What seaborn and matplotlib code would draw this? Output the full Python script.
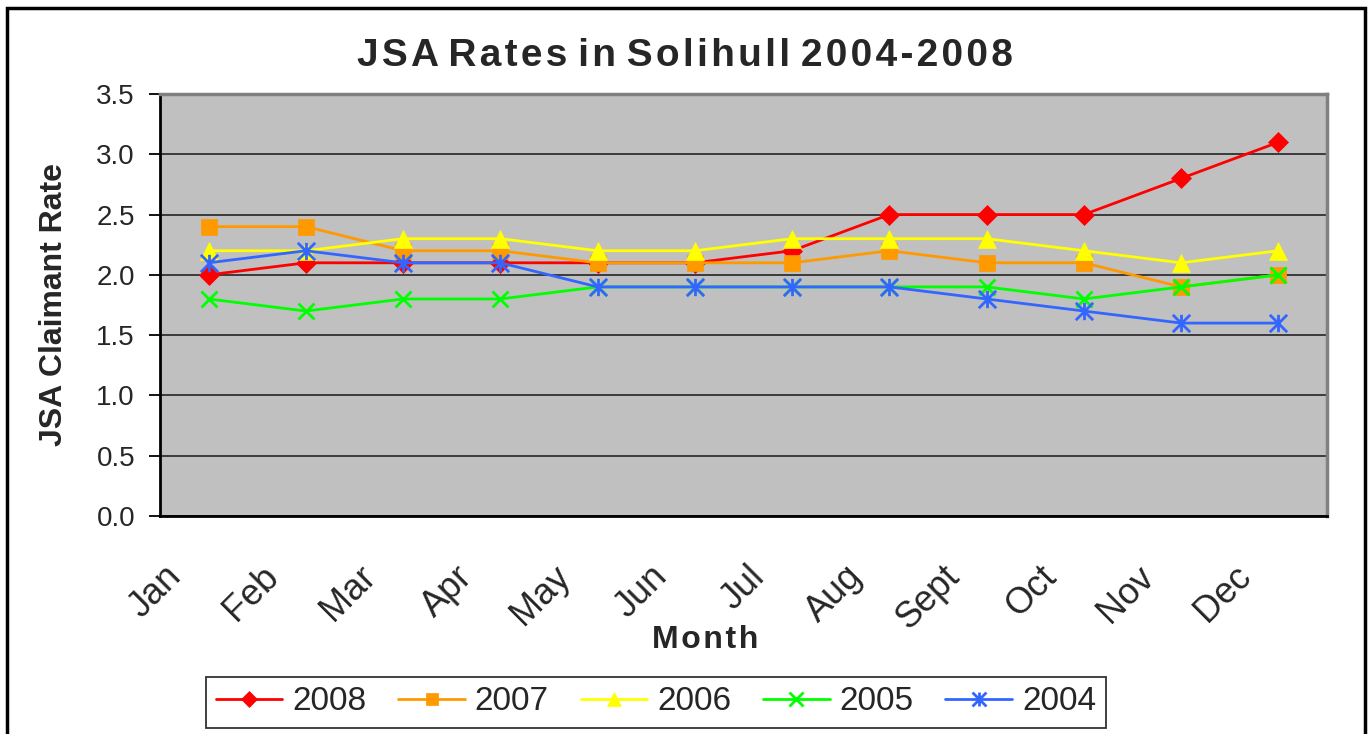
import numpy as np
import pandas as pd
import matplotlib
matplotlib.use("Agg")
import matplotlib.pyplot as plt
import seaborn as sns
from matplotlib.path import Path
from matplotlib.patches import Rectangle
from matplotlib.transforms import ScaledTranslation

months = ["Jan", "Feb", "Mar", "Apr", "May", "Jun", "Jul", "Aug", "Sept", "Oct", "Nov", "Dec"]
y2008 = [2.0, 2.1, 2.1, 2.1, 2.1, 2.1, 2.2, 2.5, 2.5, 2.5, 2.8, 3.1]
y2007 = [2.4, 2.4, 2.2, 2.2, 2.1, 2.1, 2.1, 2.2, 2.1, 2.1, 1.9, 2.0]
y2006 = [2.2, 2.2, 2.3, 2.3, 2.2, 2.2, 2.3, 2.3, 2.3, 2.2, 2.1, 2.2]
y2005 = [1.8, 1.7, 1.8, 1.8, 1.9, 1.9, 1.9, 1.9, 1.9, 1.8, 1.9, 2.0]
y2004 = [2.1, 2.2, 2.1, 2.1, 1.9, 1.9, 1.9, 1.9, 1.8, 1.7, 1.6, 1.6]
years = ["2008", "2007", "2006", "2005", "2004"]
series = [y2008, y2007, y2006, y2005, y2004]
yticks = [0.0, 0.5, 1.0, 1.5, 2.0, 2.5, 3.0, 3.5]

colors = ["#FF0000", "#FF9900", "#FFFF00", "#00FF00", "#3366FF"]
asterisk = Path([(0, -1), (0, 1), (-1, -1), (1, 1), (-1, 1), (1, -1)],
                [Path.MOVETO, Path.LINETO, Path.MOVETO, Path.LINETO, Path.MOVETO, Path.LINETO])
markers = ["D", "s", "^", "x", asterisk]
msizes = [10, 11.5, 12.5, 12, 12.5]

HS = "\u200a"


def spaced(s):
    return " ".join(HS.join(list(w)) for w in s.split(" "))


sns.set_theme(style="white")
plt.rcParams["font.family"] = ["Liberation Sans", "DejaVu Sans"]

fig = plt.figure(figsize=(13.7, 7.34), dpi=100)
ax = fig.add_axes([160/1370, 1-516/734, (1327-160)/1370, (516-94)/734])
ax.set_facecolor("#C0C0C0")

idx = np.arange(len(months))
for yr, vals, c, m, ms in zip(years, series, colors, markers, msizes):
    df = pd.DataFrame({"Month": idx, "Rate": vals})
    unfilled = (m == "x") or (m is asterisk)
    sns.lineplot(data=df, x="Month", y="Rate", ax=ax, color=c, marker=m,
                 markersize=ms, linewidth=2.0, markeredgecolor=c,
                 markeredgewidth=2.0 if unfilled else 0.5,
                 label=yr, sort=False, zorder=3)

ax.set_xlim(-0.5, len(months) - 0.5)
ax.set_ylim(0, 3.5)
ax.set_yticks(yticks)
ax.set_yticklabels([f"{v:.1f}" for v in yticks])
ax.yaxis.grid(True, color="#303030", linewidth=1.3)
ax.xaxis.grid(False)
ax.set_axisbelow(True)

ax.set_xticks(idx)
ax.set_xticklabels(months, rotation=45, ha="right", va="top", rotation_mode="anchor")
ax.set_xticks(np.arange(len(months) + 1) - 0.5, minor=True)
ax.tick_params(axis="x", which="major", length=0, pad=31, labelsize=26)
ax.tick_params(axis="x", which="minor", length=8, width=1.3, color="black", direction="out")
ax.tick_params(axis="y", length=8, width=1.3, color="black", direction="out", left=True,
               pad=10, labelsize=20)
for lab in ax.get_xticklabels():
    lab.set_transform(lab.get_transform() + ScaledTranslation(-0.45, 0, fig.dpi_scale_trans))

for side in ("left", "bottom"):
    ax.spines[side].set_color("black")
    ax.spines[side].set_linewidth(2)
for side in ("top", "right"):
    ax.spines[side].set_color("#808080")
    ax.spines[side].set_linewidth(2.5)

ax.set_xlabel("")
ax.set_ylabel("JSA Claimant Rate", fontsize=23, fontweight="bold", labelpad=20)
fig.text(705/1370, 1-640/734, spaced("Month"), ha="center", va="center",
         fontsize=23, fontweight="bold")
fig.text(685/1370, 1-56/734, spaced("JSA Rates in Solihull 2004-2008"),
         ha="center", va="center", fontsize=28, fontweight="bold")

ax.get_legend().remove()
handles, labels = ax.get_legend_handles_labels()
leg = fig.legend(handles, labels, loc="center", bbox_to_anchor=(656/1370, 1-702/734),
                 ncol=5, fontsize=24, frameon=True, fancybox=False, edgecolor="black",
                 handlelength=2.0, handletextpad=0.3, columnspacing=0.95,
                 borderpad=0.3, markerscale=0.8)
leg.get_frame().set_linewidth(1.3)

fig.add_artist(Rectangle((7/1370, -0.05), (1365-7)/1370, 1.05 - 8/734, transform=fig.transFigure,
                         fill=False, edgecolor="black", linewidth=2.5))

fig.savefig("out.png", dpi=100)
